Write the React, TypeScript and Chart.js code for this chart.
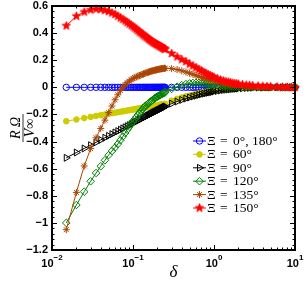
import React, { useEffect, useRef } from 'react';
import { Chart, registerables } from 'chart.js';
import { drawPoint } from 'chart.js/helpers';

Chart.register(...registerables);

// δ grid
const deltas = [
  0.015, 0.02, 0.025, 0.03, 0.035, 0.04, 0.045, 0.05, 0.055, 0.06, 0.065, 0.07, 0.075, 0.08, 0.085, 0.09,
  0.095, 0.1, 0.105, 0.11, 0.115, 0.12, 0.125, 0.13, 0.135, 0.14, 0.145, 0.15, 0.155, 0.16, 0.165, 0.17,
  0.175, 0.18, 0.185, 0.19, 0.195, 0.2, 0.205, 0.21, 0.215, 0.22, 0.225, 0.23, 0.235, 0.24, 0.245, 0.25,
  0.3, 0.35, 0.4, 0.45, 0.5, 0.55, 0.6, 0.65, 0.7, 0.75, 0.8, 0.85, 0.9, 0.95, 1.0,
  1.1, 1.2, 1.3, 1.4, 1.5, 1.6, 1.7, 1.8, 1.9, 2.0, 2.25, 2.5, 2.75, 3, 3.5, 4, 4.5, 5, 6, 7, 8, 9, 10,
];

const xi0 = [
  0, 0, 0, 0, 0, 0, 0, 0, 0, 0, 0, 0, 0, 0, 0, 0, 0, 0, 0, 0, 0, 0, 0, 0, 0, 0, 0, 0, 0, 0, 0, 0,
  0, 0, 0, 0, 0, 0, 0, 0, 0, 0, 0, 0, 0, 0, 0, 0,
  0, 0, 0, 0, 0, 0, 0, 0, 0, 0, 0, 0, 0, 0, 0,
  0, 0, 0, 0, 0, 0, 0, 0, 0, 0, 0, 0, 0, 0, 0, 0, 0, 0, 0, 0, 0, 0, 0,
];

const xi60 = [
  -0.25, -0.237, -0.227, -0.218, -0.211, -0.205, -0.2, -0.195, -0.191, -0.187, -0.183, -0.18, -0.177, -0.174, -0.171, -0.168,
  -0.166, -0.164, -0.161, -0.159, -0.157, -0.155, -0.153, -0.152, -0.15, -0.148, -0.147, -0.145, -0.144, -0.142, -0.141, -0.139,
  -0.138, -0.137, -0.135, -0.134, -0.133, -0.132, -0.131, -0.13, -0.129, -0.128, -0.127, -0.126, -0.125, -0.124, -0.123, -0.122,
  -0.098, -0.085, -0.075, -0.067, -0.06, -0.054, -0.049, -0.045, -0.041, -0.037, -0.034, -0.031, -0.029, -0.027, -0.025,
  -0.021, -0.018, -0.016, -0.014, -0.012, -0.011, -0.01, -0.009, -0.008, -0.007, -0.005, -0.004, -0.003, -0.003,
  -0.002, -0.001, -0.001, -0.001, 0, 0, 0, 0, 0,
];

const xi90 = [
  -0.52, -0.481, -0.451, -0.427, -0.406, -0.388, -0.372, -0.358, -0.345, -0.333, -0.323, -0.313, -0.303, -0.295, -0.287, -0.279,
  -0.272, -0.265, -0.258, -0.252, -0.246, -0.24, -0.235, -0.229, -0.224, -0.219, -0.215, -0.21, -0.206, -0.201, -0.197, -0.193,
  -0.189, -0.185, -0.182, -0.178, -0.175, -0.171, -0.168, -0.165, -0.162, -0.158, -0.155, -0.153, -0.15, -0.147, -0.144, -0.141,
  -0.12, -0.105, -0.093, -0.083, -0.075, -0.068, -0.062, -0.056, -0.051, -0.047, -0.043, -0.04, -0.037, -0.034, -0.031,
  -0.027, -0.023, -0.02, -0.018, -0.016, -0.014, -0.012, -0.011, -0.01, -0.009, -0.007, -0.005, -0.004, -0.003,
  -0.002, -0.002, -0.001, -0.001, 0, 0, 0, 0, 0,
];

const xi120 = [
  -1.0, -0.868, -0.77, -0.693, -0.632, -0.582, -0.538, -0.5, -0.47, -0.444, -0.418, -0.39, -0.363, -0.337, -0.313, -0.291,
  -0.27, -0.251, -0.235, -0.219, -0.204, -0.19, -0.177, -0.164, -0.152, -0.141, -0.133, -0.126, -0.119, -0.112, -0.105, -0.099,
  -0.093, -0.087, -0.082, -0.077, -0.072, -0.068, -0.065, -0.061, -0.058, -0.055, -0.051, -0.048, -0.045, -0.042, -0.039, -0.036,
  -0.012, 0.005, 0.016, 0.024, 0.029, 0.032, 0.033, 0.033, 0.032, 0.03, 0.028, 0.026, 0.024, 0.022, 0.02,
  0.017, 0.014, 0.012, 0.01, 0.009, 0.007, 0.006, 0.005, 0.005, 0.004, 0.003, 0.002, 0.002, 0.001,
  0.001, 0.001, 0, 0, 0, 0, 0, 0, 0,
];

const xi135 = [
  -1.05, -0.775, -0.58, -0.452, -0.372, -0.303, -0.242, -0.187, -0.138, -0.092, -0.055, -0.024, 0.002, 0.02, 0.034, 0.046,
  0.056, 0.064, 0.071, 0.077, 0.082, 0.087, 0.091, 0.095, 0.099, 0.103, 0.106, 0.109, 0.112, 0.115, 0.118, 0.12,
  0.122, 0.124, 0.126, 0.128, 0.129, 0.131, 0.132, 0.134, 0.135, 0.136, 0.137, 0.138, 0.139, 0.14, 0.14, 0.141,
  0.138, 0.131, 0.122, 0.113, 0.104, 0.096, 0.088, 0.081, 0.074, 0.068, 0.063, 0.058, 0.054, 0.05, 0.047,
  0.041, 0.036, 0.032, 0.028, 0.025, 0.023, 0.021, 0.019, 0.017, 0.015, 0.012, 0.01, 0.008, 0.007,
  0.005, 0.004, 0.003, 0.002, 0.001, 0.001, 0, 0, 0,
];

const xi150 = [
  0.454, 0.525, 0.556, 0.571, 0.577, 0.575, 0.568, 0.56, 0.549, 0.538, 0.525, 0.512, 0.501, 0.49, 0.479, 0.468,
  0.458, 0.448, 0.438, 0.429, 0.419, 0.41, 0.402, 0.394, 0.386, 0.378, 0.371, 0.365, 0.358, 0.352, 0.346, 0.341,
  0.335, 0.33, 0.326, 0.322, 0.318, 0.315, 0.311, 0.307, 0.304, 0.3, 0.297, 0.293, 0.29, 0.287, 0.284, 0.281,
  0.25, 0.225, 0.205, 0.19, 0.172, 0.158, 0.145, 0.133, 0.122, 0.112, 0.102, 0.094, 0.087, 0.08, 0.074,
  0.064, 0.055, 0.049, 0.043, 0.039, 0.035, 0.031, 0.028, 0.026, 0.024, 0.02, 0.017, 0.015, 0.013,
  0.01, 0.008, 0.006, 0.005, 0.003, 0.002, 0.001, 0.0005, 0,
];

const seriesLabels = ['0°, 180°', '60°', '90°', '120°', '135°', '150°'];
const yMajorTicks = [-1.2, -1.0, -0.8, -0.6, -0.4, -0.2, 0, 0.2, 0.4, 0.6];
const xDecades = [0.01, 0.1, 1, 10];
const xDecadeExponents = ['−2', '−1', '0', '1'];

function makePentagram(r: number, color: string) {
  const c = document.createElement('canvas');
  const s = Math.ceil(r * 2 + 2);
  c.width = s;
  c.height = s;
  const g = c.getContext('2d')!;
  g.translate(s / 2, s / 2);
  g.beginPath();
  for (let i = 0; i < 10; i++) {
    const rr = i % 2 === 0 ? r : r * 0.42;
    const a = -Math.PI / 2 + (i * Math.PI) / 5;
    g.lineTo(rr * Math.cos(a), rr * Math.sin(a));
  }
  g.closePath();
  g.fillStyle = color;
  g.fill();
  g.strokeStyle = color;
  g.lineWidth = 0.8;
  g.stroke();
  return c;
}

const fmtY = (v: number) => {
  const r = Math.round(v * 10) / 10;
  if (r === 0) return '0';
  const s = Math.abs(r).toString();
  return r < 0 ? '−' + s : s;
};

export default function App() {
  const ref = useRef<HTMLCanvasElement>(null);

  useEffect(() => {
    if (!ref.current) return;
    const star = makePentagram(4.5, '#ff0000');
    const styles = [
      { color: '#0000ff', pointStyle: 'circle', radius: 3.2, rotation: 0, fill: 'rgba(0,0,0,0)' },
      { color: 'rgb(204,204,0)', pointStyle: 'circle', radius: 2.8, rotation: 0, fill: 'rgb(204,204,0)' },
      { color: '#000000', pointStyle: 'triangle', radius: 4, rotation: 90, fill: 'rgba(0,0,0,0)' },
      { color: 'rgb(0,128,0)', pointStyle: 'rectRot', radius: 3.8, rotation: 0, fill: 'rgba(0,0,0,0)' },
      { color: 'rgb(170,68,0)', pointStyle: 'star', radius: 3.5, rotation: 0, fill: 'rgba(0,0,0,0)' },
      { color: '#ff0000', pointStyle: star as any, radius: 4.5, rotation: 0, fill: '#ff0000' },
    ];
    const allSeries = [xi0, xi60, xi90, xi120, xi135, xi150];

    const datasets = allSeries.map((arr, i) => ({
      label: 'Ξ = ' + seriesLabels[i],
      data: deltas.map((d, j) => ({ x: d, y: arr[j] })),
      borderColor: styles[i].color,
      backgroundColor: styles[i].fill,
      borderWidth: 1,
      pointStyle: styles[i].pointStyle,
      pointRadius: styles[i].radius,
      pointRotation: styles[i].rotation,
      pointBorderColor: styles[i].color,
      pointBackgroundColor: styles[i].fill,
      pointBorderWidth: 1,
      tension: 0,
      clip: false as any,
      order: 6 - i,
    }));

    const decor = {
      id: 'decor',
      afterDraw(chart: any) {
        const ctx = chart.ctx as CanvasRenderingContext2D;
        const { left, right, top, bottom } = chart.chartArea;
        const xs = chart.scales.x;
        const ys = chart.scales.y;
        ctx.save();
        ctx.strokeStyle = '#000';
        ctx.lineWidth = 1;
        const line = (x1: number, y1: number, x2: number, y2: number) => {
          ctx.beginPath();
          ctx.moveTo(x1, y1);
          ctx.lineTo(x2, y2);
          ctx.stroke();
        };
        // y ticks
        for (let k = 0; k < yMajorTicks.length; k++) {
          const py = Math.round(ys.getPixelForValue(yMajorTicks[k])) + 0.5;
          line(left, py, left + 5, py);
          line(right, py, right - 5, py);
          if (k < yMajorTicks.length - 1) {
            for (let m = 1; m < 5; m++) {
              const v = yMajorTicks[k] + (m * (yMajorTicks[k + 1] - yMajorTicks[k])) / 5;
              const pm = Math.round(ys.getPixelForValue(v)) + 0.5;
              line(left, pm, left + 2.5, pm);
              line(right, pm, right - 2.5, pm);
            }
          }
        }
        // x ticks
        for (let k = 0; k < xDecades.length; k++) {
          const px = Math.round(xs.getPixelForValue(xDecades[k])) + 0.5;
          line(px, bottom, px, bottom - 5);
          line(px, top, px, top + 5);
          if (k < xDecades.length - 1) {
            for (let m = 2; m < 10; m++) {
              const pm = Math.round(xs.getPixelForValue(xDecades[k] * m)) + 0.5;
              line(pm, bottom, pm, bottom - 2.5);
              line(pm, top, pm, top + 2.5);
            }
          }
        }
        // frame
        ctx.lineWidth = 2;
        ctx.strokeRect(left, top, right - left, bottom - top);

        // x tick labels
        ctx.fillStyle = '#000';
        ctx.textBaseline = 'alphabetic';
        ctx.textAlign = 'left';
        for (let k = 0; k < xDecades.length; k++) {
          const px = xs.getPixelForValue(xDecades[k]);
          ctx.font = 'bold 11px "Liberation Sans", Arial, sans-serif';
          const w1 = ctx.measureText('10').width;
          ctx.font = 'bold 8px "Liberation Sans", Arial, sans-serif';
          const w2 = ctx.measureText(xDecadeExponents[k]).width;
          const x0 = px - (w1 + w2) / 2;
          ctx.font = 'bold 11px "Liberation Sans", Arial, sans-serif';
          ctx.fillText('10', x0, 266.5);
          ctx.font = 'bold 8px "Liberation Sans", Arial, sans-serif';
          ctx.fillText(xDecadeExponents[k], x0 + w1, 259.5);
        }

        // x title
        ctx.font = 'italic 17px "Liberation Serif", serif';
        ctx.textAlign = 'center';
        ctx.fillText('δ', (left + right) / 2, 277);

        // y title (fraction)
        ctx.save();
        ctx.translate(23, (top + bottom) / 2);
        ctx.rotate(-Math.PI / 2);
        ctx.textAlign = 'center';
        ctx.font = 'italic 14px "Liberation Serif", serif';
        ctx.fillText('R Ω', 0, -3);
        ctx.fillText('V∞', 0, 11);
        ctx.lineWidth = 0.8;
        line(-14, 0, 14, 0);
        ctx.restore();

        // legend
        for (let i = 0; i < styles.length; i++) {
          const y = 141 + i * 13.4;
          const st = styles[i];
          ctx.strokeStyle = st.color;
          ctx.lineWidth = 1;
          line(193, y, 206, y);
          ctx.fillStyle = st.fill;
          ctx.strokeStyle = st.color;
          drawPoint(ctx, { pointStyle: st.pointStyle, rotation: st.rotation, radius: st.radius, borderWidth: 1 } as any, 199.5, y);
          ctx.fillStyle = '#000';
          ctx.textAlign = 'left';
          ctx.textBaseline = 'middle';
          ctx.font = '13.5px "Liberation Serif", serif';
          ctx.fillText('Ξ', 207, y + 0.5);
          ctx.fillText('=', 220, y + 0.5);
          ctx.fillText(seriesLabels[i], 233, y + 0.5);
        }
        ctx.restore();
      },
    };

    const chart = new Chart(ref.current, {
      type: 'line',
      data: { datasets: datasets as any },
      options: {
        animation: false,
        responsive: false,
        events: [],
        layout: { padding: { top: 6, right: 12, left: 0, bottom: 0 } },
        plugins: { legend: { display: false }, tooltip: { enabled: false } },
        scales: {
          x: {
            type: 'logarithmic',
            min: 0.01,
            max: 10,
            grid: { display: false, drawTicks: false },
            border: { display: false },
            ticks: { display: false },
            afterFit: (s: any) => {
              s.height = 33;
              s.paddingLeft = 0;
              s.paddingRight = 0;
            },
          },
          y: {
            type: 'linear',
            min: -1.2,
            max: 0.6,
            grid: { display: false, drawTicks: false },
            border: { display: false },
            ticks: {
              stepSize: 0.2,
              padding: 4,
              color: '#000',
              font: { family: '"Liberation Sans", Arial, sans-serif', weight: 'bold', size: 11 },
              callback: (v: any) => fmtY(Number(v)),
            },
            afterFit: (s: any) => {
              s.width = 52;
              s.paddingTop = 0;
              s.paddingBottom = 0;
            },
          },
        },
      },
      plugins: [decor],
    });
    return () => chart.destroy();
  }, []);

  return (
    <div style={{ position: 'absolute', left: 0, top: 0, width: 307, height: 283, background: '#fff' }}>
      <canvas ref={ref} width={307} height={283} style={{ display: 'block' }} />
    </div>
  );
}
